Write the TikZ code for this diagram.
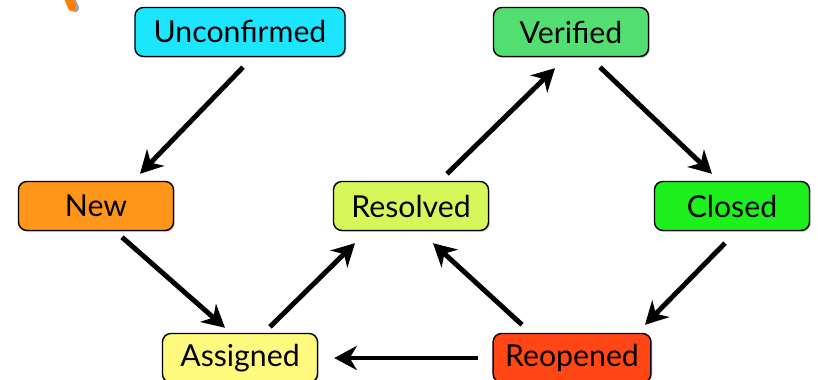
\documentclass[tikz,border=0pt]{standalone}
\usepackage{fontspec}
\setmainfont{Lato}
\usetikzlibrary{arrows.meta}
\usetikzlibrary{shadows}

\definecolor{unconfcol}{RGB}{28,230,255}
\definecolor{verifcol}{RGB}{82,222,112}
\definecolor{newcol}{RGB}{255,150,25}
\definecolor{resolvcol}{RGB}{214,247,90}
\definecolor{closedcol}{RGB}{30,240,30}
\definecolor{assigncol}{RGB}{255,250,125}
\definecolor{reopencol}{RGB}{255,70,20}

\begin{document}
\begin{tikzpicture}[x=0.025cm,y=0.025cm,
  state/.style={draw=black,line width=1pt,rounded corners=6pt,
    minimum width=3.875cm,minimum height=1.225cm,inner xsep=0.3cm,
    font=\fontsize{21.5}{25}\selectfont,
    drop shadow={opacity=0.35,shadow xshift=1pt,shadow yshift=-1pt}},
  flow/.style={line width=3.5pt,-{Stealth[length=16pt,width=17pt,inset=5pt]}}]
  \useasboundingbox (0,0) rectangle (818,380);

  % leftover stroke, top left
  \draw[gray!70,line width=6pt,line cap=round] (70,382) -- (75,372);
  \draw[orange,line width=6pt,line cap=round] (68,383) -- (72,373);

  % states
  \node[state,fill=unconfcol,minimum width=5.25cm] (unconfirmed) at (240,348) {Unconfirmed};
  \node[state,fill=verifcol] (verified) at (571,348) {Verified};
  \node[state,fill=newcol] (new) at (96,174) {New};
  \node[state,fill=resolvcol] (resolved) at (411,174) {Resolved};
  \node[state,fill=closedcol] (closed) at (732,174) {Closed};
  \node[state,fill=assigncol] (assigned) at (240,22) {Assigned};
  \node[state,fill=reopencol] (reopened) at (572,22) {Reopened};

  % transitions
  \draw[flow] ([shift={(3,-10)}]unconfirmed.south) -- ([shift={(44,7)}]new.north);
  \draw[flow] ([shift={(26,-6)}]new.south) -- ([shift={(-15,5)}]assigned.north);
  \draw[flow] ([shift={(30,6)}]assigned.north) -- ([shift={(-56,-12)}]resolved.south);
  \draw[flow] ([shift={(36,7)}]resolved.north) -- ([shift={(-16,-11)}]verified.south);
  \draw[flow] ([shift={(29,-10)}]verified.south) -- ([shift={(-20,7)}]closed.north);
  \draw[flow] ([shift={(-7,-12)}]closed.south) -- ([shift={(73,8)}]reopened.north);
  \draw[flow] ([shift={(-50,8)}]reopened.north) -- ([shift={(22,-12)}]resolved.south);
  \draw[flow] ([shift={(-14,0)}]reopened.west) -- ([shift={(16,0)}]assigned.east);
\end{tikzpicture}
\end{document}
